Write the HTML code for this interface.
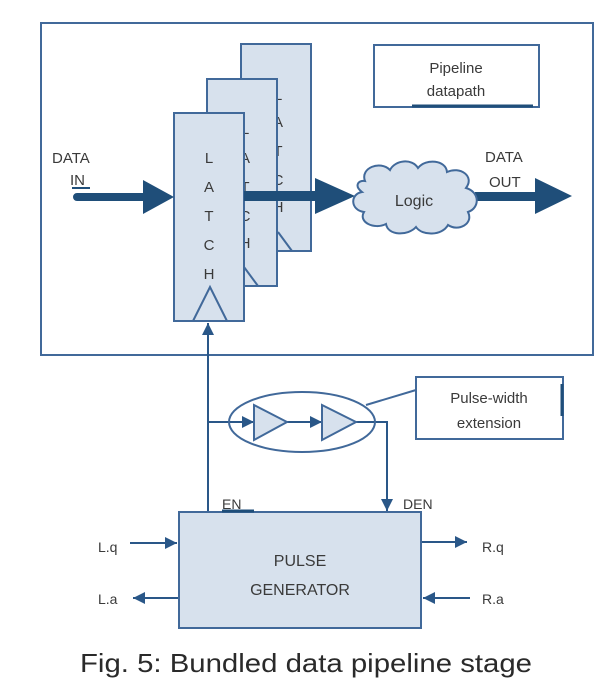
<!DOCTYPE html>
<html><head><meta charset="utf-8"><style>
html,body{margin:0;padding:0;background:#fff;}
svg{display:block;}
text{font-family:"Liberation Sans",sans-serif;fill:#3a3a3a;}
</style></head><body>
<svg width="610" height="696" viewBox="0 0 610 696" xmlns="http://www.w3.org/2000/svg">
<defs>
<marker id="ah" viewBox="0 0 10 10" refX="10" refY="5" markerWidth="12" markerHeight="12" markerUnits="userSpaceOnUse" orient="auto"><path d="M0,0 L10,5 L0,10 Z" fill="#2a5788"/></marker>
</defs>
<g stroke="#41699a" stroke-width="2" fill="none">
<rect x="41" y="23" width="552" height="332"/>
</g>
<!-- latches -->
<g stroke="#41699a" stroke-width="2" fill="#d7e1ed">
<rect x="241" y="44" width="70" height="207"/>
<path d="M278,232 L292,251" fill="none"/>
</g>
<g font-size="15" text-anchor="middle">
<text x="278" y="100">L</text><text x="278" y="127">A</text><text x="278" y="156">T</text><text x="278" y="185">C</text><text x="278" y="212">H</text>
</g>
<g stroke="#41699a" stroke-width="2" fill="#d7e1ed">
<rect x="207" y="79" width="70" height="207"/>
<path d="M244,267 L258,286" fill="none"/>
</g>
<g font-size="15" text-anchor="middle">
<text x="245" y="134">L</text><text x="245" y="163">A</text><text x="245" y="192">T</text><text x="245" y="221">C</text><text x="245" y="248">H</text>
</g>
<g stroke="#41699a" stroke-width="2" fill="#d7e1ed">
<rect x="174" y="113" width="70" height="208"/>
<path d="M193,321 L210,287 L227,321" fill="none"/>
</g>
<g font-size="15" text-anchor="middle">
<text x="209" y="163">L</text><text x="209" y="192">A</text><text x="209" y="221">T</text><text x="209" y="250">C</text><text x="209" y="279">H</text>
</g>
<!-- data arrows -->
<g fill="#1f4e79" stroke="none">
<path d="M77,193 L143,193 L143,180 L174,197 L143,214 L143,201 L77,201 A4,4 0 0 1 77,193 Z"/>
<path d="M244,191 L315,191 L315,178 L355,196 L315,214 L315,201 L244,201 Z"/>
<path d="M475,192 L535,192 L535,178 L572,196 L535,214 L535,201 L475,201 Z"/>
</g>
<text x="52" y="163" font-size="15">DATA</text>
<text x="70" y="185" font-size="15">IN</text>
<line x1="72" y1="188" x2="90" y2="188" stroke="#1f4e79" stroke-width="2"/>
<text x="485" y="162" font-size="15">DATA</text>
<text x="489" y="187" font-size="15">OUT</text>
<!-- cloud -->
<path d="M365,181 C360,168 380,160 390,170 C395,160 412,158 418,168 C426,158 446,160 447,172 C460,166 475,176 466,188 C480,192 480,208 468,212 C474,224 458,232 448,225 C442,236 422,236 416,227 C408,236 388,236 386,224 C374,230 358,222 364,212 C350,210 350,194 362,192 C354,186 358,180 365,181 Z" fill="#d7e1ed" stroke="#41699a" stroke-width="2"/>
<text x="414" y="206" font-size="16" text-anchor="middle">Logic</text>
<!-- pipeline datapath box -->
<rect x="374" y="45" width="165" height="62" fill="#fff" stroke="#41699a" stroke-width="2"/>
<line x1="412" y1="106" x2="533" y2="106" stroke="#1f4e79" stroke-width="3"/>
<text x="456" y="73" font-size="15" text-anchor="middle">Pipeline</text>
<text x="456" y="96" font-size="15" text-anchor="middle">datapath</text>
<!-- bottom wiring -->
<g stroke="#2a5788" stroke-width="2" fill="none">
<line x1="208" y1="512" x2="208" y2="323" marker-end="url(#ah)"/>
<line x1="208" y1="422" x2="254" y2="422" marker-end="url(#ah)"/>
<line x1="287" y1="422" x2="322" y2="422" marker-end="url(#ah)"/>
<polyline points="356,422 387,422 387,511" marker-end="url(#ah)"/>
<ellipse cx="302" cy="422" rx="73" ry="30" stroke="#41699a"/>
<line x1="366" y1="405" x2="416" y2="390" stroke="#41699a"/>
<line x1="130" y1="543" x2="177" y2="543" marker-end="url(#ah)"/>
<line x1="179" y1="598" x2="133" y2="598" marker-end="url(#ah)"/>
<line x1="421" y1="542" x2="467" y2="542" marker-end="url(#ah)"/>
<line x1="470" y1="598" x2="423" y2="598" marker-end="url(#ah)"/>
</g>
<g fill="#d7e1ed" stroke="#41699a" stroke-width="2">
<path d="M254,405 L287,422 L254,440 Z"/>
<path d="M322,405 L356,422 L322,440 Z"/>
</g>
<rect x="416" y="377" width="147" height="62" fill="#fff" stroke="#41699a" stroke-width="2"/>
<line x1="562" y1="384" x2="562" y2="416" stroke="#1f4e79" stroke-width="3"/>
<text x="489" y="403" font-size="15" text-anchor="middle">Pulse-width</text>
<text x="489" y="428" font-size="15" text-anchor="middle">extension</text>
<!-- pulse generator -->
<rect x="179" y="512" width="242" height="116" fill="#d7e1ed" stroke="#41699a" stroke-width="2"/>
<line x1="222" y1="511" x2="254" y2="511" stroke="#1f4e79" stroke-width="3"/>
<text x="222" y="509" font-size="14">EN</text>
<text x="403" y="509" font-size="14">DEN</text>
<text x="300" y="566" font-size="16" text-anchor="middle">PULSE</text>
<text x="300" y="595" font-size="16" text-anchor="middle">GENERATOR</text>
<text x="98" y="552" font-size="14">L.q</text>
<text x="98" y="604" font-size="14">L.a</text>
<text x="482" y="552" font-size="14">R.q</text>
<text x="482" y="604" font-size="14">R.a</text>
<text x="80" y="672" font-size="26" textLength="452" lengthAdjust="spacingAndGlyphs" style="fill:#2a2a2a">Fig. 5: Bundled data pipeline stage</text>
</svg>
</body></html>
